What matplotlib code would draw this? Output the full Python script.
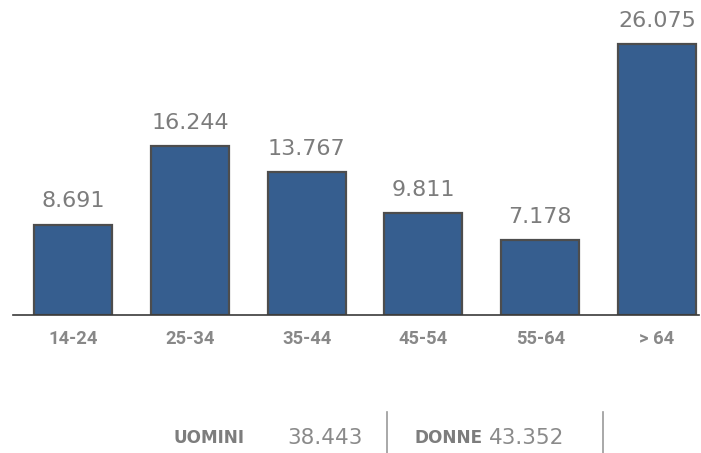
import matplotlib
matplotlib.use("Agg")
import matplotlib.pyplot as plt

categories = ["14-24", "25-34", "35-44", "45-54", "55-64", "> 64"]
values = [8691, 16244, 13767, 9811, 7178, 26075]
value_labels = ["8.691", "16.244", "13.767", "9.811", "7.178", "26.075"]
summary_labels = ["UOMINI", "DONNE"]
summary_values = ["38.443", "43.352"]

W, H = 701, 453
fig = plt.figure(figsize=(W / 100, H / 100), dpi=100)
ax = fig.add_axes([13 / W, (H - 315) / H, (699 - 13) / W, 315 / H])

x = list(range(len(categories)))
ax.bar(x, values, width=0.668, color="#365e8f", edgecolor="#4d4d4d", linewidth=1.6, zorder=2)
ax.set_xlim(-0.515, 5.36)
ax.set_ylim(0, 30317)

for xi, v, lab in zip(x, values, value_labels):
    ax.annotate(lab, (xi, v), xytext=(0, 12.5), textcoords="offset points",
                ha="center", va="baseline", fontsize=16, color="#7c7c7c",
                family="DejaVu Sans")

for s in ["top", "left", "right"]:
    ax.spines[s].set_visible(False)
ax.spines["bottom"].set_color("#3a3a3a")
ax.spines["bottom"].set_linewidth(1.2)
ax.set_yticks([])
ax.set_xticks(x)
ax.set_xticklabels(categories, fontsize=13.2, color="#888888", fontweight="bold", family="Roboto")
ax.tick_params(axis="x", length=0, pad=11)

# bottom summary
yb = 1 - 438 / H
fig.text(209 / W, yb, summary_labels[0], ha="center", va="center",
         fontsize=12.2, color="#7d7d7d", fontweight="bold", family="DejaVu Sans")
fig.text(325 / W, yb, summary_values[0], ha="center", va="center",
         fontsize=15.5, color="#8a8a8a", family="DejaVu Sans")
fig.text(449 / W, yb, summary_labels[1], ha="center", va="center",
         fontsize=12.2, color="#7d7d7d", fontweight="bold", family="DejaVu Sans")
fig.text(527 / W, yb, summary_values[1], ha="center", va="center",
         fontsize=15.5, color="#8a8a8a", family="DejaVu Sans")
for xl in [387, 603]:
    fig.add_artist(plt.Line2D([xl / W, xl / W], [1 - 412 / H, 1 - 453 / H],
                              color="#9a9a9a", linewidth=1.2))

fig.savefig("out.png", dpi=100)
